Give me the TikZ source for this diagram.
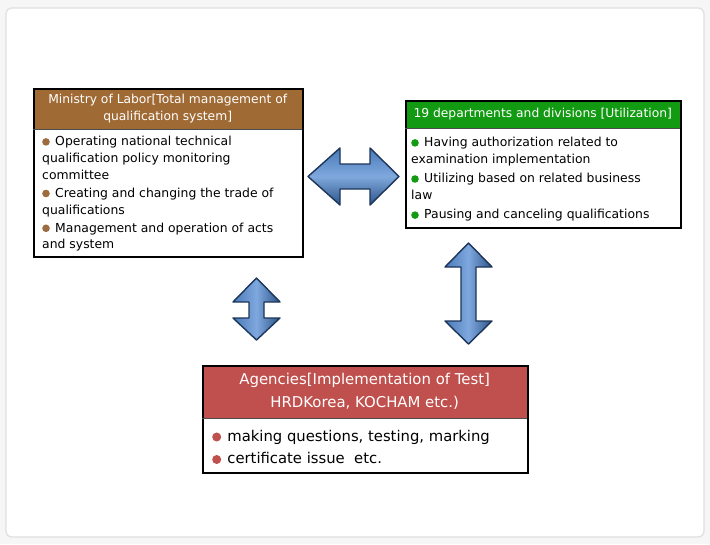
\documentclass[tikz,border=0pt]{standalone}
\usepackage{fontspec}
\setmainfont{DejaVu Sans}
\definecolor{labbrown}{HTML}{A06A34}
\definecolor{labbul}{HTML}{9C6B3E}
\definecolor{utilgreen}{HTML}{129A12}
\definecolor{agred}{HTML}{C0504D}
\definecolor{arrowdark}{HTML}{1C3559}
\definecolor{arrowlight}{HTML}{7FA8DE}
\definecolor{arrowmid}{HTML}{4A7AB8}
\definecolor{arrowlow}{HTML}{2C5488}
\newcommand{\bul}[2][3.8pt]{\tikz[baseline=-0.55ex]\fill[#2] (0,0) circle[radius=#1];\hspace{1.5pt}}
\begin{document}
\begin{tikzpicture}[x=1pt,y=-1pt,
  boxframe/.style={draw=black, line width=2.4pt, inner sep=0pt, anchor=north west},
  boxhead/.style={text=white, inner sep=0pt, align=center, anchor=north west},
  bodytext/.style={inner sep=0pt, anchor=north west, align=left},
  smallfont/.style={font=\fontsize{12.4}{16.8}\selectfont},
  bigfont/.style={font=\fontsize{14.8}{22.5}\selectfont},
  blockarrow/.style={draw=arrowdark, line width=1.4pt, line join=round}]
% background and frame
\fill[gray!7] (0,0) rectangle (710,544);
\draw[gray!25, line width=1.2pt, fill=white, rounded corners=6pt] (6,8) rectangle (704,537);

% Ministry of Labor box
\node[boxhead, font=\fontsize{12.3}{17}\selectfont, fill=labbrown, minimum width=269pt, minimum height=41pt] (labhead) at (33,88)
  {Ministry of Labor[Total management of\\qualification system]};
\node[boxframe, minimum width=269pt, minimum height=168pt] (labbox) at (33,88) {};
\draw[gray!60!black, line width=0.8pt] (labhead.south west) -- (labhead.south east);
\node[bodytext, smallfont] (labtext) at (42,136)
  {\bul{labbul} Operating national technical\\
   qualification policy monitoring\\
   committee\\[1.2pt]
   \bul{labbul} Creating and changing the trade of\\
   qualifications\\[1.2pt]
   \bul{labbul} Management and operation of acts\\
   and system};

% 19 departments box
\node[boxhead, font=\fontsize{12.3}{17}\selectfont, fill=utilgreen, minimum width=275pt, minimum height=28pt] (utilhead) at (405,100)
  {19 departments and divisions [Utilization]};
\node[boxframe, minimum width=275pt, minimum height=127pt] (utilbox) at (405,100) {};
\draw[gray!60!black, line width=0.8pt] (utilhead.south west) -- (utilhead.south east);
\node[bodytext, smallfont] (utiltext) at (411,137)
  {\bul{utilgreen} Having authorization related to\\
   examination implementation\\[2.5pt]
   \bul{utilgreen} Utilizing based on related business\\
   law\\[2.5pt]
   \bul{utilgreen} Pausing and canceling qualifications};

% Agencies box
\node[boxhead, font=\fontsize{14.9}{23}\selectfont, fill=agred, minimum width=325pt, minimum height=53pt] (aghead) at (202,365)
  {Agencies[Implementation of Test]\\HRDKorea, KOCHAM etc.)};
\node[boxframe, minimum width=325pt, minimum height=107pt] (agbox) at (202,365) {};
\draw[gray!60!black, line width=0.8pt] (aghead.south west) -- (aghead.south east);
\node[bodytext, bigfont] (agtext) at (212,430)
  {\bul[4.5pt]{agred} making questions, testing, marking\\
   \bul[4.5pt]{agred} certificate issue\ \ etc.};

% block arrows
\draw[blockarrow, top color=arrowmid, bottom color=arrowlow, middle color=arrowlight]
  (308,176.5) -- (340,148) -- (340,164) -- (370,164) -- (370,148) -- (399,176.5)
  -- (370,205) -- (370,189) -- (340,189) -- (340,205) -- cycle;
\draw[blockarrow, left color=arrowmid, right color=arrowlow, middle color=arrowlight]
  (256.5,278) -- (280,302) -- (264,302) -- (264,318) -- (280,318) -- (256.5,340)
  -- (233,318) -- (249,318) -- (249,302) -- (233,302) -- cycle;
\draw[blockarrow, left color=arrowmid, right color=arrowlow, middle color=arrowlight]
  (468.5,243) -- (492,267) -- (476,267) -- (476,321) -- (492,321) -- (468.5,344)
  -- (445,321) -- (461,321) -- (461,267) -- (445,267) -- cycle;
\end{tikzpicture}
\end{document}
